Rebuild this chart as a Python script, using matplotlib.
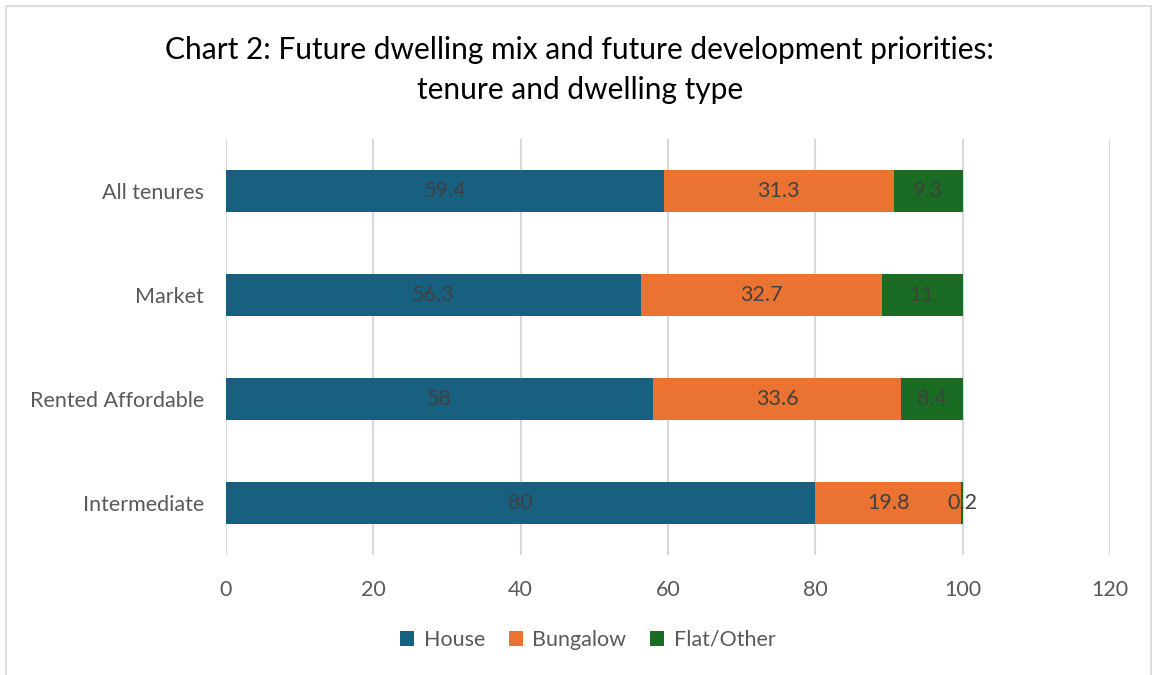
import matplotlib.pyplot as plt
from matplotlib.patches import Rectangle

categories = ["All tenures", "Market", "Rented Affordable", "Intermediate"]
house = [59.4, 56.3, 58, 80]
bungalow = [31.3, 32.7, 33.6, 19.8]
flat = [9.3, 11, 8.4, 0.2]
series_names = ["House", "Bungalow", "Flat/Other"]
colors = ["#17607F", "#EB7332", "#1A6B24"]
x_ticks = [0, 20, 40, 60, 80, 100, 120]

plt.rcParams["font.family"] = ["Lato", "DejaVu Sans"]

fig = plt.figure(figsize=(11.57, 6.75), dpi=100)
ax = fig.add_axes([226 / 1157, 1 - 555 / 675, (1110 - 226) / 1157, (555 - 139) / 675])

ypos = list(range(len(categories)))
left = [0] * len(categories)
for vals, name, col in zip([house, bungalow, flat], series_names, colors):
    bars = ax.barh(ypos, vals, left=left, height=0.4, color=col, label=name, zorder=3)
    for b, v in zip(bars, vals):
        cx = b.get_x() + b.get_width() / 2
        ax.text(cx, b.get_y() + b.get_height() / 2, f"{v:g}", ha="center", va="center",
                fontsize=15.5, color="#404040", zorder=4)
    left = [l + v for l, v in zip(left, vals)]

ax.set_xlim(0, 120)
ax.set_ylim(3.5, -0.5)
ax.set_xticks(x_ticks)
ax.set_yticks(ypos)
ax.set_yticklabels(categories)
ax.grid(axis="x", color="#D9D9D9", linewidth=1.5, zorder=0)
for s in ax.spines.values():
    s.set_visible(False)
ax.tick_params(axis="both", length=0, labelsize=15.5, colors="#595959")
ax.tick_params(axis="x", pad=18)
ax.tick_params(axis="y", pad=16)

fig.text(0.501, 1 - 70 / 675, "Chart 2: Future dwelling mix and future development priorities:\ntenure and dwelling type",
         ha="center", va="center", fontsize=21.5, color="#000000", linespacing=1.5)

fig.legend(loc="center", bbox_to_anchor=(0.508, 1 - 640 / 675), ncol=3, frameon=False,
           fontsize=15.5, handlelength=0.65, handleheight=0.65, handletextpad=0.45,
           columnspacing=1.1, labelcolor="#595959")

fig.patches.append(Rectangle((6 / 1157, -0.01), 1 - 12 / 1157, 1 - 6 / 675 + 0.01,
                             transform=fig.transFigure, fill=False, edgecolor="#D9D9D9",
                             linewidth=1.2))

fig.savefig("out.png", dpi=100)
